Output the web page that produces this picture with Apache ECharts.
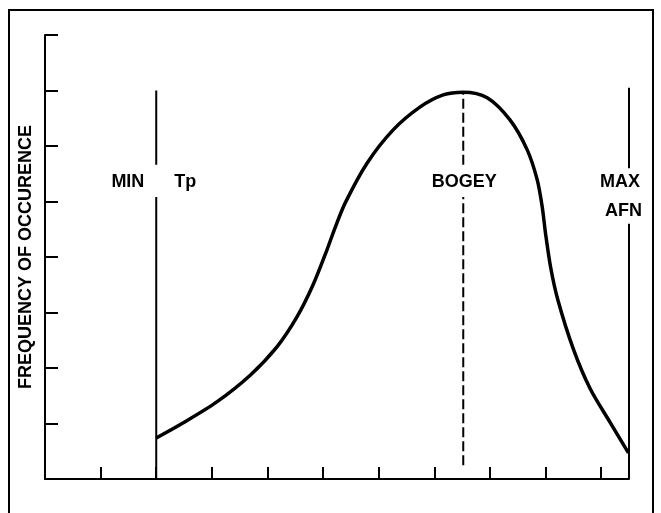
<!DOCTYPE html>
<html>
<head>
<meta charset="utf-8">
<style>
html,body{margin:0;padding:0;background:#fff;}
#chart{width:661px;height:513px;}
</style>
<script src="https://cdn.jsdelivr.net/npm/echarts@6/dist/echarts.min.js"></script>
</head>
<body>
<div id="chart"></div>
<script>
// Distribution curve (x in tick units, y in tick units)
const curveX = [2.0, 2.48, 3.09, 3.69, 4.17, 4.53, 4.82, 5.07, 5.22, 5.40, 5.79, 6.26, 6.74, 7.16, 7.52, 7.95, 8.36, 8.67, 8.85, 8.94, 9.00, 9.09, 9.22, 9.50, 9.80, 10.16, 10.49];
const curveY = [0.74, 1.01, 1.39, 1.87, 2.38, 2.92, 3.50, 4.13, 4.54, 4.98, 5.69, 6.29, 6.70, 6.92, 6.97, 6.87, 6.47, 5.93, 5.39, 4.90, 4.42, 3.82, 3.23, 2.34, 1.63, 1.02, 0.47];

// Reference lines: [yBottom, yTop] segments
const minLineX = 2;
const minSegments = [[0, 5.08], [5.66, 7.0]];
const bogeyX = 7.52;
const bogeySegments = [[0.25, 5.08], [5.66, 6.97]];
const maxLineX = 10.5;
const maxSegments = [[0, 4.6], [5.6, 7.05]];

// Text labels
const labelTexts = ['MIN', 'Tp', 'BOGEY', 'MAX', 'AFN'];
const labelX = [1.49, 2.52, 7.54, 10.34, 10.40];
const labelY = [5.35, 5.35, 5.35, 5.35, 4.83];

const yAxisName = 'FREQUENCY OF OCCURENCE';

const chart = echarts.init(document.getElementById('chart'));
const FONT = '"Liberation Sans", Arial, sans-serif';

function segSeries(name, x, segs, dashed) {
  const data = [];
  segs.forEach((s, i) => {
    if (i > 0) data.push([x, null]);
    data.push([x, s[0]]);
    data.push([x, s[1]]);
  });
  return {
    name: name, type: 'line', data: data, showSymbol: false, connectNulls: false,
    lineStyle: {color: '#000', width: 2, type: dashed ? [10, 4] : 'solid'},
    silent: true, z: 3
  };
}

const option = {
  animation: false,
  backgroundColor: '#fff',
  grid: {left: 45, right: 32, top: 35, bottom: 34},
  xAxis: {
    type: 'value', min: 0, max: 10.5, interval: 1,
    axisLine: {show: true, lineStyle: {color: '#000', width: 2}},
    axisTick: {show: true, inside: true, length: 12, lineStyle: {color: '#000', width: 2}},
    axisLabel: {show: false}, splitLine: {show: false}
  },
  yAxis: {
    type: 'value', min: 0, max: 8, interval: 1,
    name: yAxisName, nameLocation: 'middle', nameRotate: 90, nameGap: 10,
    nameTextStyle: {color: '#000', fontSize: 18, fontFamily: FONT, fontWeight: 'bold'},
    axisLine: {show: true, lineStyle: {color: '#000', width: 2}},
    axisTick: {show: true, inside: true, length: 13, lineStyle: {color: '#000', width: 2}},
    axisLabel: {show: false}, splitLine: {show: false}
  },
  graphic: [{
    type: 'rect', shape: {x: 9, y: 10, width: 644, height: 520},
    style: {fill: 'none', stroke: '#000', lineWidth: 2}, silent: true
  }],
  series: [
    {
      name: 'Distribution', type: 'line', smooth: 0.3, showSymbol: false,
      data: curveX.map((x, i) => [x, curveY[i]]),
      lineStyle: {color: '#000', width: 3.5}, z: 4
    },
    segSeries('MIN Tp', minLineX, minSegments, false),
    segSeries('BOGEY', bogeyX, bogeySegments, true),
    segSeries('MAX AFN', maxLineX, maxSegments, false),
    {
      name: 'Labels', type: 'scatter', symbolSize: 0,
      itemStyle: {opacity: 1},
      data: labelTexts.map((t, i) => ({value: [labelX[i], labelY[i]], name: t})),
      label: {show: true, position: 'inside', formatter: p => p.name, opacity: 1,
        color: '#000', fontSize: 18, fontFamily: FONT, fontWeight: 'bold'},
      silent: true
    }
  ]
};
chart.setOption(option);
</script>
</body>
</html>
